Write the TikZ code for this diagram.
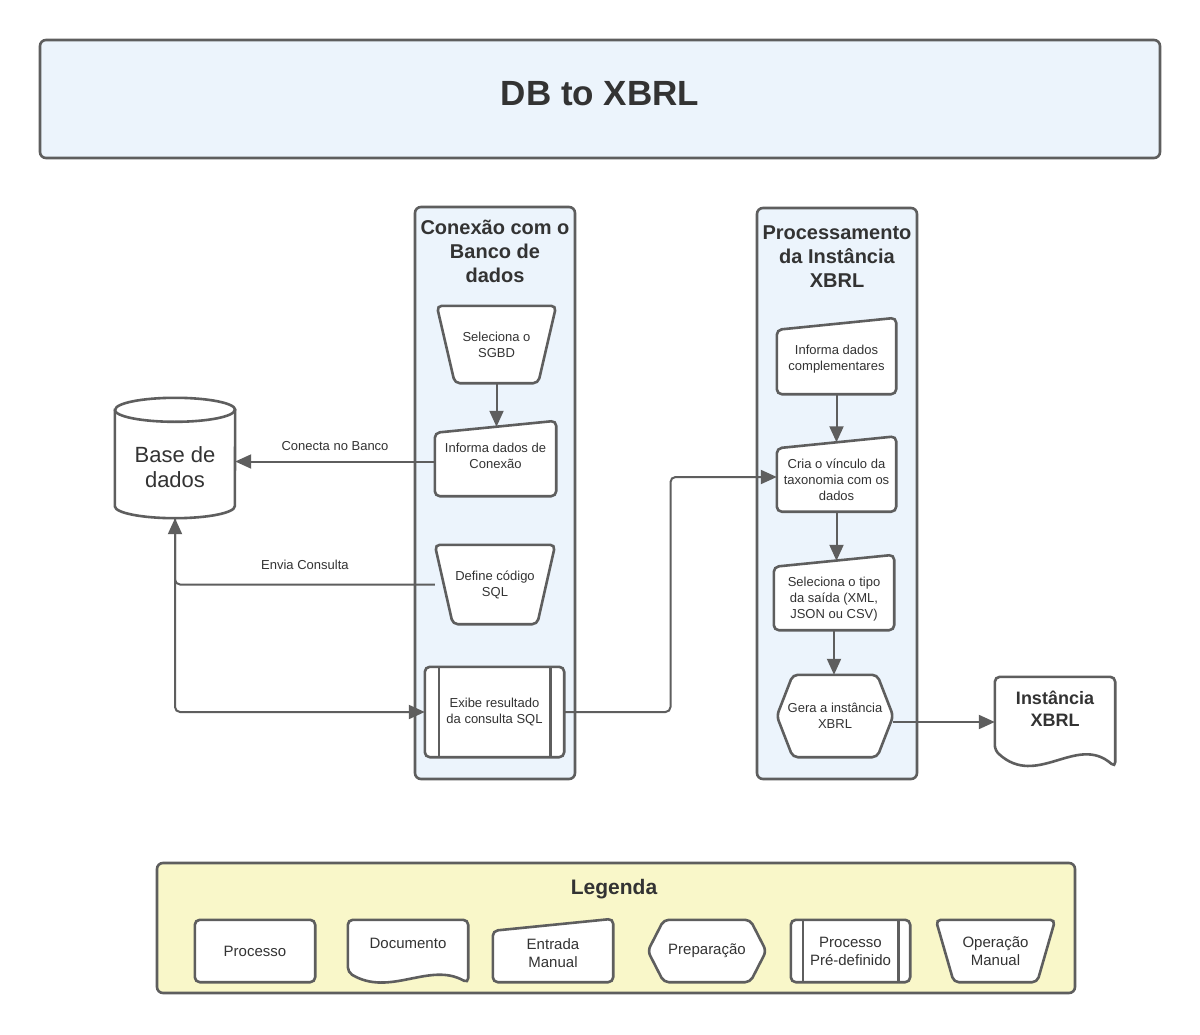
\documentclass[tikz,border=0pt]{standalone}
\usepackage{fontspec}
\setmainfont{Liberation Sans}
\usetikzlibrary{arrows.meta,calc,backgrounds}
\definecolor{lanefill}{RGB}{236,244,252}
\definecolor{legfill}{RGB}{249,247,201}
\definecolor{edge}{RGB}{94,94,94}
\definecolor{ink}{RGB}{51,51,51}

\tikzset{
  shp/.style={draw=edge,line width=2.6pt,fill=white,rounded corners=5pt},
  lane/.style={draw=edge,line width=2.6pt,fill=lanefill,rounded corners=6pt,inner sep=0pt},
  box/.style={inner sep=0pt,align=center,text=ink,font=\fontsize{13}{16}\selectfont},
  legbox/.style={box,font=\fontsize{15}{18}\selectfont},
  lanetitle/.style={inner sep=0pt,align=center,text=ink,font=\fontsize{20}{24}\selectfont\bfseries},
  title/.style={inner sep=0pt,text=ink,font=\fontsize{35}{42}\selectfont\bfseries},
  lbl/.style={inner sep=0pt,text=ink,font=\fontsize{13}{16}\selectfont},
  arr/.style={draw=edge,line width=2pt,rounded corners=5pt,-{Triangle[length=16pt,width=14pt]}},
}

\newcommand\drawopman[1]{\begin{pgfonlayer}{background}
\draw[shp] (#1.north west) -- (#1.north east) -- ($(#1.south east)+(-18,0)$) -- ($(#1.south west)+(18,0)$) -- cycle;
\end{pgfonlayer}}
\newcommand\drawmanin[1]{\begin{pgfonlayer}{background}
\draw[shp] (#1.south west) -- ($(#1.north west)+(0,6)$) -- ($(#1.north east)+(0,-6)$) -- (#1.south east) -- cycle;
\end{pgfonlayer}}
\newcommand\drawprep[1]{\begin{pgfonlayer}{background}
\draw[shp] (#1.west) -- ($(#1.north west)+(16,0)$) -- ($(#1.north east)+(-16,0)$) -- (#1.east) -- ($(#1.south east)+(-16,0)$) -- ($(#1.south west)+(16,0)$) -- cycle;
\end{pgfonlayer}}
\newcommand\drawproc[1]{\begin{pgfonlayer}{background}
\draw[shp] (#1.south west) rectangle (#1.north east);
\end{pgfonlayer}}
\newcommand\drawpredef[2]{\begin{pgfonlayer}{background}
\draw[shp] (#1.south west) rectangle (#1.north east);
\draw[shp,rounded corners=0pt] ($(#1.north west)+(#2,0)$) -- ($(#1.south west)+(#2,0)$) ($(#1.north east)+(-#2,0)$) -- ($(#1.south east)+(-#2,0)$);
\end{pgfonlayer}}
\newcommand\drawdoc[2]{\begin{pgfonlayer}{background}
\draw[shp] (#1.south east) .. controls ($(#1.south west)+(82,-2*#2)$) and ($(#1.south west)+(42,1.3*#2)$) .. ($(#1.south west)+(0,-#2)$) -- (#1.north west) -- (#1.north east) -- cycle;
\end{pgfonlayer}}
\newcommand\drawdb[1]{\begin{pgfonlayer}{background}
\draw[shp,sharp corners] ($(#1.north west)+(0,12)$) -- ($(#1.south west)+(0,-12)$) arc[start angle=180,end angle=360,x radius=60pt,y radius=12pt] -- ($(#1.north east)+(0,12)$) arc[start angle=0,end angle=180,x radius=60pt,y radius=12pt] -- cycle;
\draw[shp,sharp corners,fill=none] ($(#1.north west)+(0,12)$) arc[start angle=180,end angle=360,x radius=60pt,y radius=12pt];
\end{pgfonlayer}}

\begin{document}
\begin{tikzpicture}[x=1pt,y=-1pt]
\begin{pgfonlayer}{background}
\path[fill=white,use as bounding box] (0,0) rectangle (1200,1035);
\node[lane,minimum width=160pt,minimum height=572pt] (lane1) at (495,493) {};
\node[lane,minimum width=160pt,minimum height=571pt] (lane2) at (837,493.5) {};
\node[lane,fill=legfill,minimum width=918pt,minimum height=130pt] (leg) at (616,928) {};
\end{pgfonlayer}

\node[lane,minimum width=1120pt,minimum height=118pt,label={[title,yshift=5pt]center:DB to XBRL}] (head) at (600,99) {};

\node[lanetitle] (t1) at (495,251) {Conexão com o\\Banco de\\dados};
\node[lanetitle] (t2) at (837,257) {Processamento\\da Instância\\XBRL};

\node[box,minimum width=119pt,minimum height=77pt] (sel) at (496.5,344.5) {Seleciona o\\SGBD};
\drawopman{sel}
\node[box,minimum width=121pt,minimum height=69pt,text depth=12pt] (inf) at (495.5,461.5) {Informa dados de\\Conexão};
\drawmanin{inf}
\node[box,minimum width=120pt,minimum height=79pt] (def) at (495,584.5) {Define código\\SQL};
\drawopman{def}
\node[box,minimum width=139pt,minimum height=90pt] (exi) at (494.5,712) {Exibe resultado\\da consulta SQL};
\drawpredef{exi}{14}
\node[box,minimum width=120pt,minimum height=120pt,label={[box,font=\fontsize{22}{25}\selectfont,yshift=-9pt]center:{Base de\\dados}}] (db) at (175,458) {};
\drawdb{db}

\node[box,minimum width=119pt,minimum height=70pt] (cmp) at (836.5,359) {Informa dados\\complementares};
\drawmanin{cmp}
\node[box,minimum width=119pt,minimum height=69pt,label={[box,yshift=-3pt]center:{Cria o vínculo da\\taxonomia com os\\dados}}] (cri) at (836.5,477) {};
\drawmanin{cri}
\node[box,minimum width=120pt,minimum height=69pt,label={[box,yshift=-4pt]center:{Seleciona o tipo\\da saída (XML,\\JSON ou CSV)}}] (tip) at (834,595.5) {};
\drawmanin{tip}
\node[box,minimum width=116pt,minimum height=82pt] (gen) at (835,716) {Gera a instância\\XBRL};
\drawprep{gen}
\node[box,minimum width=120pt,minimum height=90pt,label={[box,font=\fontsize{18}{22}\selectfont\bfseries,yshift=13pt]center:{Instância\\XBRL}}] (doc) at (1055,722) {};
\drawdoc{doc}{17}

\draw[arr] (sel.south) -- (sel.south |- inf.north);
\draw[arr] (inf.west) -- node[lbl,above=10pt]{Conecta no Banco} (inf.west -| db.east);
\draw[arr] (def.west) -| node[lbl,above=14pt,pos=.25]{Envia Consulta} (db.south);
\draw[arr] (db.south) |- (exi.west);
\draw[arr] (exi.east) -| ($(exi.east)!.5!(cri.west)$) |- (cri.west);
\draw[arr] (cmp.south) -- (cmp.south |- cri.north);
\draw[arr] (cri.south) -- (cri.south |- tip.north);
\draw[arr] (tip.south) -- (tip.south |- gen.north);
\draw[arr] (gen.east |- doc.west) -- (doc.west);

\node[title,font=\fontsize{21}{25}\selectfont\bfseries] (legt) at (614,889) {Legenda};
\node[legbox,minimum width=120pt,minimum height=62pt] (lproc) at (255,951) {Processo};
\drawproc{lproc}
\node[legbox,minimum width=120pt,minimum height=63pt,label={[legbox,yshift=8pt]center:Documento}] (ldoc) at (408,951.5) {};
\drawdoc{ldoc}{11}
\node[legbox,minimum width=120pt,minimum height=57pt] (lman) at (553,953.5) {Entrada\\Manual};
\drawmanin{lman}
\node[legbox,minimum width=118pt,minimum height=62pt] (lprep) at (707,951) {Preparação};
\drawprep{lprep}
\node[legbox,minimum width=119pt,minimum height=62pt] (lpre) at (850.5,951) {Processo\\Pré-definido};
\drawpredef{lpre}{12}
\node[legbox,minimum width=119pt,minimum height=62pt] (lop) at (995.5,951) {Operação\\Manual};
\drawopman{lop}
\end{tikzpicture}
\end{document}
